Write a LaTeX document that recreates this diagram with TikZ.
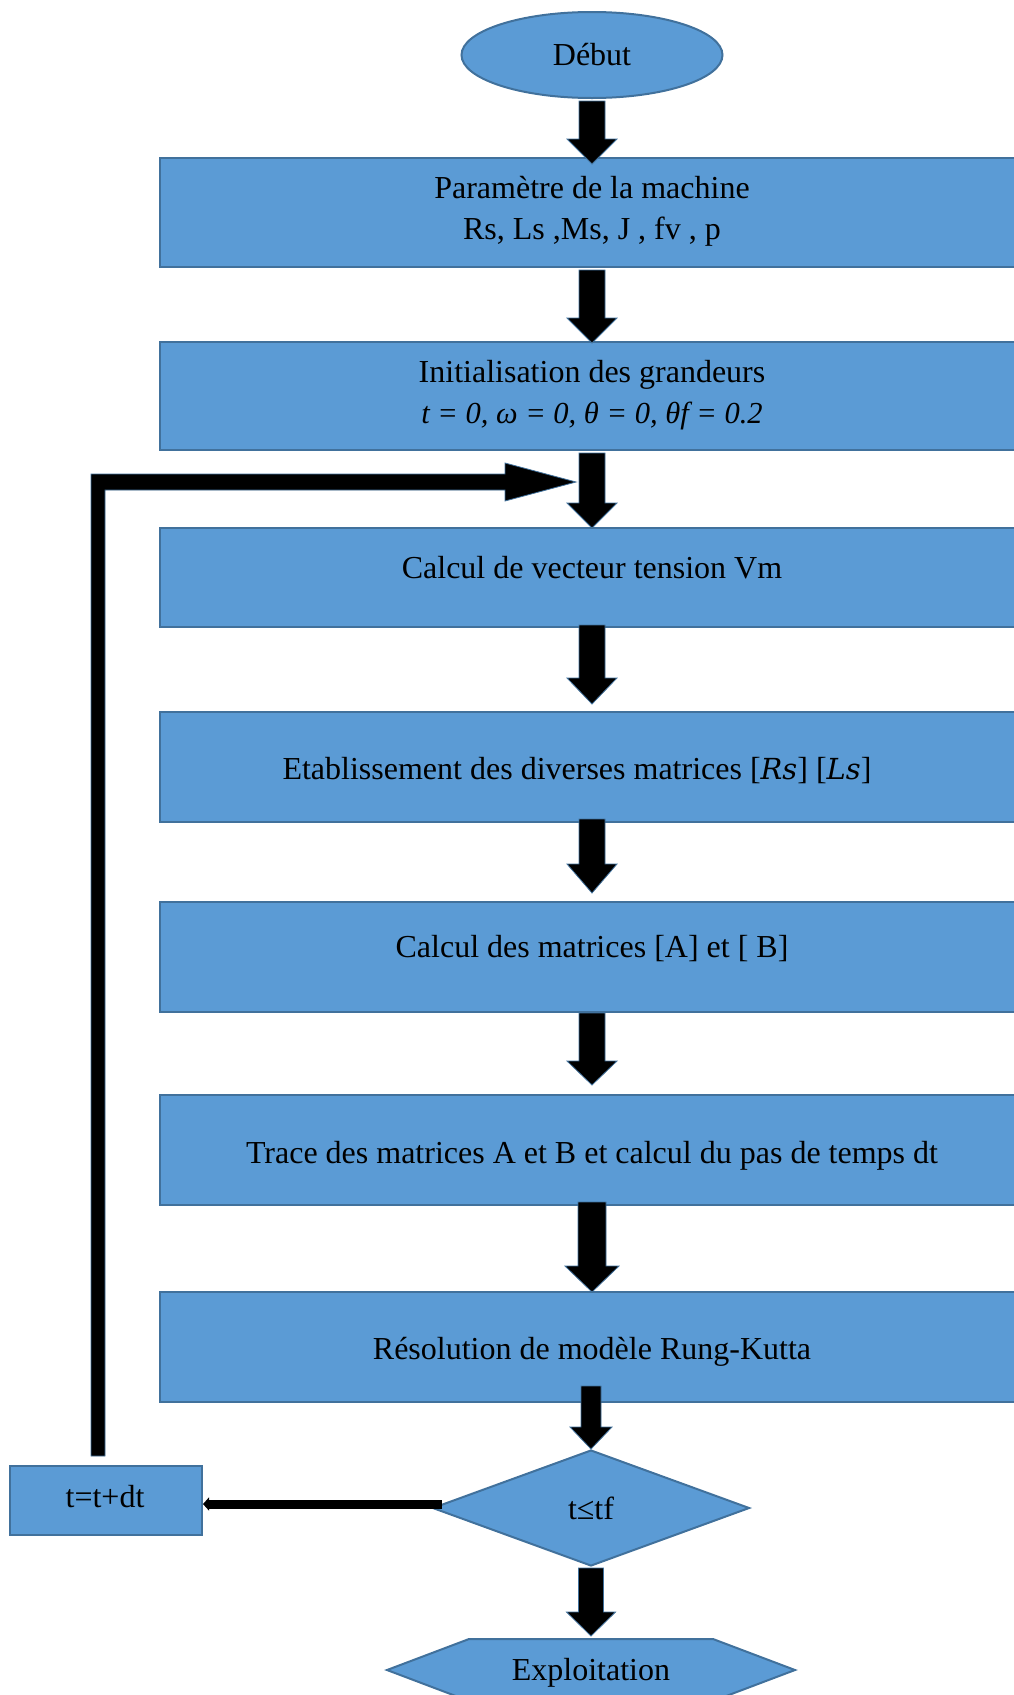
\documentclass[tikz,border=0pt]{standalone}
\usepackage{fontspec}
\setmainfont{Liberation Serif}
\newfontfamily\cambit{DejaVu Serif}
\usetikzlibrary{shapes.geometric,calc,arrows.meta}
\definecolor{boxfill}{HTML}{5B9BD5}
\definecolor{boxline}{HTML}{41719C}
\tikzset{
  flowbox/.style={draw=boxline, fill=boxfill, line width=2pt, minimum width=864pt, inner sep=0pt},
  txt/.style={font=\fontsize{32}{41}\selectfont, align=center, inner sep=0pt},
  barr/.style={fill=black, draw=boxline, line width=0.8pt},
}
\newcommand\barrow[5]{%
  \path[barr] let \p1=(#1), \p2=(#2) in
   (\x2-#3,\y1) -- (\x2+#3,\y1) -- (\x2+#3,\y2+#5) -- (\x2+#4,\y2+#5) --
   (\x2,\y2) -- (\x2-#4,\y2+#5) -- (\x2-#3,\y2+#5) -- cycle;}
\begin{document}
\begin{tikzpicture}[x=1pt,y=-1pt]
\useasboundingbox (0,0) rectangle (1014,1695);
\clip (0,0) rectangle (1014,1695);
% shapes
\node[ellipse, draw=boxline, fill=boxfill, line width=2pt, minimum width=261pt, minimum height=86pt, inner sep=0pt, txt] (e) at (592,55) {Début};
\node[flowbox, minimum height=109pt] (b1) at (592,212.5) {};
\node[flowbox, minimum height=108pt] (b2) at (592,396) {};
\node[flowbox, minimum height=99pt] (b3) at (592,577.5) {};
\node[flowbox, minimum height=110pt] (b4) at (592,767) {};
\node[flowbox, minimum height=110pt] (b5) at (592,957) {};
\node[flowbox, minimum height=110pt] (b6) at (592,1150) {};
\node[flowbox, minimum height=110pt] (b7) at (592,1347) {};
\node[diamond, draw=boxline, fill=boxfill, line width=2pt, minimum width=317pt, minimum height=116pt, inner sep=0pt, txt] (d) at (591,1508) {t≤tf};
\node[draw=boxline, fill=boxfill, line width=2pt, minimum width=192pt, minimum height=69pt, inner sep=0pt] (tt) at (106,1500.5) {};
\path[draw=boxline, fill=boxfill, line width=2pt] (387,1670) -- (469,1639) -- (713,1639) -- (795,1670) -- (713,1701) -- (469,1701) -- cycle;
\coordinate (hx) at (591,1639);
% texts
\node[txt] (t1) at (592,211.5) {Paramètre de la machine\\Rs, Ls ,Ms, J , fv , p};
\node[txt] (t2) at (592,395) {Initialisation des grandeurs\\{\fontsize{30.5}{39}\selectfont\itshape t = 0, ω = 0, θ = 0, θf = 0.2}};
\node[txt] (t3) at (592,568) {Calcul de vecteur tension Vm};
\node[txt] (t4) at (577,771) {Etablissement des diverses matrices [{\cambit\itshape\fontsize{29}{36}\selectfont Rs}] [{\cambit\itshape\fontsize{29}{36}\selectfont Ls}]};
\node[txt] (t5) at (592,949) {Calcul des matrices [A] et [ B]};
\node[txt] (t6) at (592,1156) {Trace des matrices A et B et calcul du pas de temps dt};
\node[txt] (t7) at (592,1352) {Résolution de modèle Rung-Kutta};
\node[txt] (t8) at (105,1497) {t=t+dt};
\node[txt] (ex) at (591,1673) {Exploitation};
% block arrows
\coordinate (a1s) at ($(e.south)+(0,2)$);   \coordinate (a1e) at ($(b1.north)+(0,7)$);
\coordinate (a2s) at ($(b1.south)+(0,2)$);  \coordinate (a2e) at ($(b2.north)+(0,2)$);
\coordinate (a3s) at ($(b2.south)+(0,2)$);  \coordinate (a3e) at ($(b3.north)+(0,1)$);
\coordinate (a4s) at ($(b3.south)+(0,-3)$); \coordinate (a4e) at ($(b4.north)+(0,-7)$);
\coordinate (a5s) at ($(b4.south)+(0,-4)$); \coordinate (a5e) at ($(b5.north)+(0,-8)$);
\coordinate (a6s) at (b5.south);            \coordinate (a6e) at ($(b6.north)+(0,-9)$);
\coordinate (a7s) at ($(b6.south)+(0,-4)$); \coordinate (a7e) at ($(b7.north)+(0,1)$);
\coordinate (a8s) at ($(b7.south)+(0,-17)$);\coordinate (a8e) at (d.north);
\coordinate (a9s) at ($(d.south)+(0,1)$);   \coordinate (a9e) at ($(hx)+(0,-3)$);
\barrow{a1s}{a1e}{13pt}{25pt}{25pt}
\barrow{a2s}{a2e}{13pt}{25pt}{25pt}
\barrow{a3s}{a3e}{13pt}{25pt}{25pt}
\barrow{a4s}{a4e}{13pt}{25pt}{26pt}
\barrow{a5s}{a5e}{13pt}{25pt}{29pt}
\barrow{a6s}{a6e}{13pt}{25pt}{24pt}
\barrow{a7s}{a7e}{14pt}{27pt}{26pt}
\barrow{a8s}{a8e}{10pt}{21pt}{22pt}
\barrow{a9s}{a9e}{12.5pt}{24.5pt}{24pt}
% loop arrow from t=t+dt back to the flow
\coordinate (lp) at (576,482);
\path[barr] (91,1456) -- (91,474) -- (505,474) -- (505,463) -- (lp) -- (505,501) -- (505,490) -- (105,490) -- (105,1456) -- cycle;
% from decision to t=t+dt
\draw[line width=9pt, -{Triangle[length=6pt,width=13pt]}] ($(d.west)+(10,-4)$) -- ($(tt.east)+(0,3.5)$);
\end{tikzpicture}
\end{document}
